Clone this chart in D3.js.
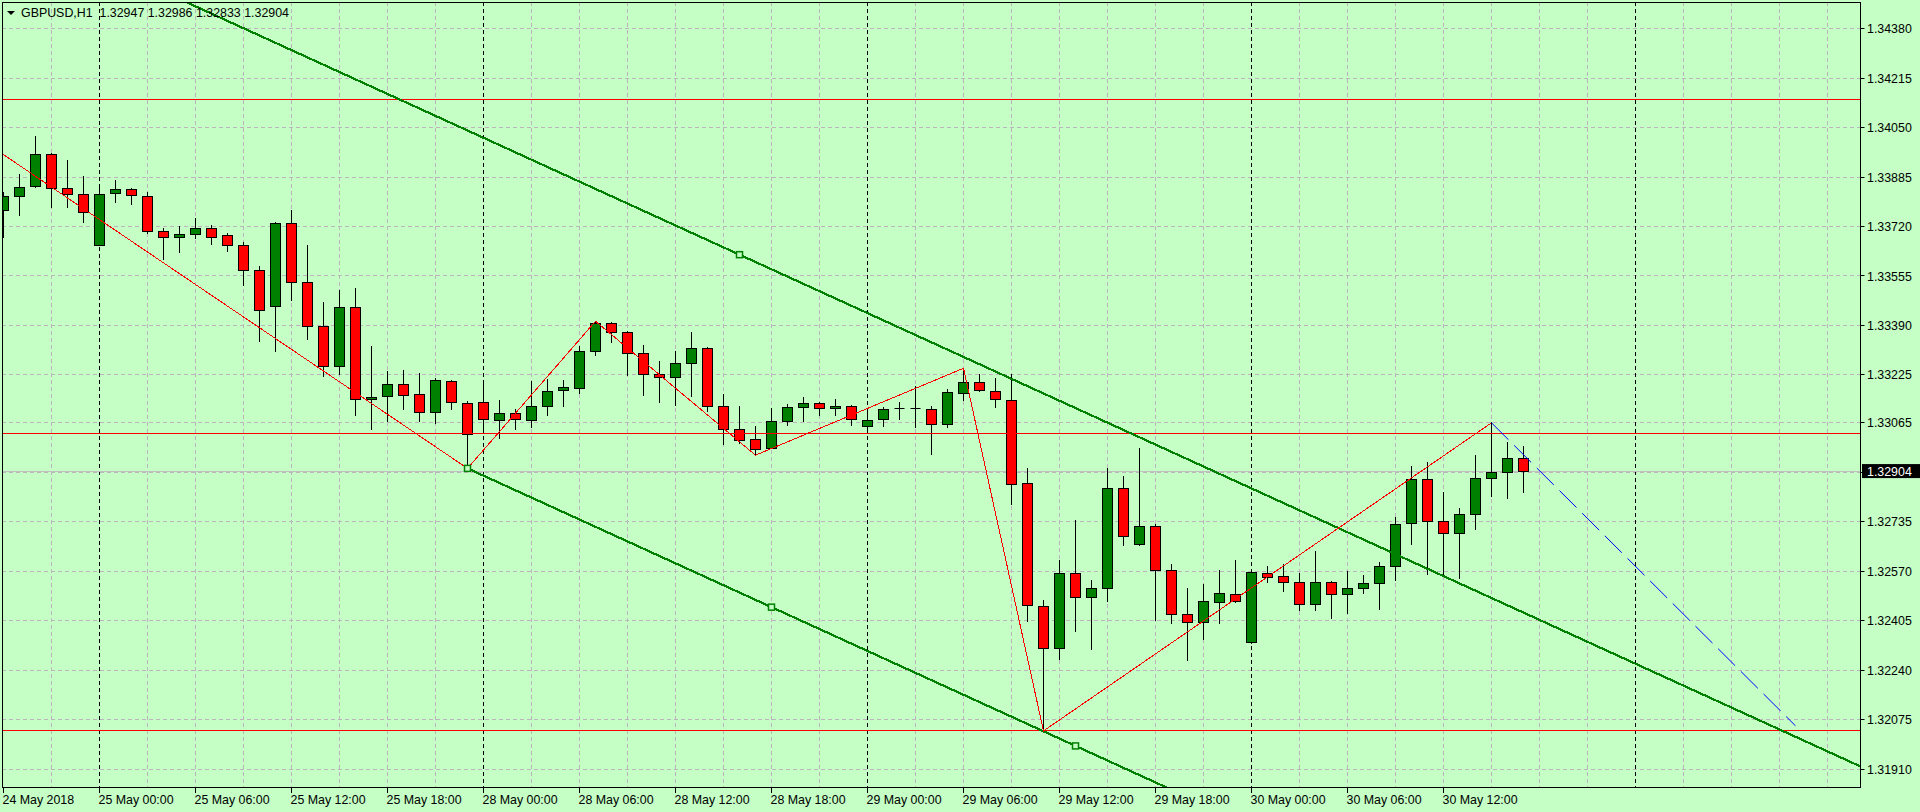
<!DOCTYPE html>
<html><head><meta charset="utf-8">
<script src="https://cdn.jsdelivr.net/npm/d3@7"></script>
<style>
html,body{margin:0;padding:0;background:#C5FFC5;overflow:hidden}
svg{display:block}
text{font-family:"Liberation Sans",Arial,sans-serif;font-size:12.4px;fill:#000}
</style>
</head><body>
<svg id="chart" width="1920" height="812"></svg>
<script>
// ---------------- DATA ----------------
const symbolTitle = "GBPUSD,H1";
const lastBarText = "1.32947 1.32986 1.32833 1.32904";

// hourly bars, first bar = 24 May 18:00
const open = [1.33774,1.33820,1.33854,1.33961,1.33848,1.33828,1.33656,1.33831,1.33844,1.33821,
1.33704,1.33684,1.33694,1.33714,1.33691,1.33657,1.33574,1.33454,1.33731,1.33534,
1.33387,1.33254,1.33450,1.33144,1.33154,1.33194,1.33160,1.33100,1.33204,1.33130,
1.33134,1.33073,1.33097,1.33073,1.33120,1.33174,1.33180,1.33304,1.33397,1.33367,
1.33297,1.33227,1.33217,1.33264,1.33314,1.33120,1.33044,1.33010,1.32980,1.33070,
1.33117,1.33130,1.33113,1.33120,1.33053,1.33077,1.33113,1.33113,1.33110,1.33060,
1.33164,1.33200,1.33170,1.33140,1.32863,1.32453,1.32313,1.32563,1.32483,1.32513,
1.32847,1.32660,1.32720,1.32573,1.32426,1.32399,1.32466,1.32493,1.32333,1.32563,
1.32553,1.32533,1.32460,1.32533,1.32493,1.32513,1.32530,1.32586,1.32730,1.32877,
1.32736,1.32696,1.32760,1.32880,1.32900,1.32947];
const high = [1.33835,1.33894,1.34020,1.33963,1.33939,1.33886,1.33856,1.33872,1.33848,1.33835,
1.33714,1.33719,1.33748,1.33722,1.33697,1.33665,1.33587,1.33733,1.33775,1.33657,
1.33468,1.33508,1.33512,1.33321,1.33235,1.33241,1.33231,1.33214,1.33207,1.33136,
1.33194,1.33139,1.33110,1.33204,1.33211,1.33206,1.33318,1.33404,1.33400,1.33370,
1.33324,1.33270,1.33304,1.33367,1.33317,1.33160,1.33120,1.33053,1.33113,1.33127,
1.33150,1.33132,1.33144,1.33124,1.33107,1.33117,1.33134,1.33187,1.33120,1.33177,
1.33247,1.33226,1.33214,1.33227,1.32911,1.32471,1.32607,1.32740,1.32540,1.32913,
1.32887,1.32978,1.32726,1.32593,1.32513,1.32526,1.32573,1.32607,1.32574,1.32587,
1.32593,1.32563,1.32636,1.32536,1.32570,1.32556,1.32600,1.32750,1.32920,1.32933,
1.32833,1.32780,1.32957,1.33065,1.33000,1.32986];
const low = [1.33683,1.33758,1.33850,1.33785,1.33785,1.33733,1.33656,1.33799,1.33793,1.33696,
1.33611,1.33633,1.33679,1.33659,1.33636,1.33523,1.33336,1.33302,1.33473,1.33342,
1.33219,1.33226,1.33089,1.33042,1.33069,1.33109,1.33069,1.33062,1.33109,1.32913,
1.33039,1.33013,1.33042,1.33049,1.33089,1.33119,1.33164,1.33290,1.33334,1.33222,
1.33156,1.33134,1.33122,1.33152,1.33102,1.32993,1.32997,1.32957,1.32978,1.33057,
1.33070,1.33090,1.33090,1.33057,1.33033,1.33052,1.33077,1.33049,1.32960,1.33050,
1.33140,1.33169,1.33116,1.32792,1.32402,1.32037,1.32276,1.32368,1.32309,1.32468,
1.32655,1.32656,1.32404,1.32395,1.32273,1.32343,1.32396,1.32467,1.32329,1.32532,
1.32502,1.32438,1.32438,1.32412,1.32428,1.32496,1.32443,1.32538,1.32658,1.32560,
1.32560,1.32546,1.32710,1.32818,1.32812,1.32833];
const close = [1.33820,1.33851,1.33961,1.33848,1.33828,1.33767,1.33828,1.33844,1.33824,1.33704,
1.33684,1.33694,1.33714,1.33684,1.33657,1.33574,1.33440,1.33731,1.33534,1.33387,
1.33254,1.33450,1.33144,1.33150,1.33194,1.33157,1.33100,1.33207,1.33134,1.33027,
1.33077,1.33097,1.33077,1.33120,1.33170,1.33184,1.33304,1.33397,1.33367,1.33297,
1.33227,1.33217,1.33264,1.33314,1.33120,1.33044,1.33007,1.32977,1.33070,1.33117,
1.33130,1.33113,1.33120,1.33077,1.33073,1.33110,1.33113,1.33113,1.33060,1.33167,
1.33200,1.33174,1.33144,1.32860,1.32456,1.32313,1.32563,1.32483,1.32513,1.32847,
1.32686,1.32720,1.32573,1.32426,1.32399,1.32469,1.32496,1.32469,1.32566,1.32550,
1.32533,1.32460,1.32533,1.32493,1.32513,1.32530,1.32586,1.32726,1.32877,1.32736,
1.32696,1.32760,1.32880,1.32900,1.32947,1.32904];

const xTickIndex = [0,6,12,18,24,30,36,42,48,54,60,66,72,78,84,90];
const xTickLabels = ["24 May 2018","25 May 00:00","25 May 06:00","25 May 12:00","25 May 18:00",
"28 May 00:00","28 May 06:00","28 May 12:00","28 May 18:00","29 May 00:00","29 May 06:00",
"29 May 12:00","29 May 18:00","30 May 00:00","30 May 06:00","30 May 12:00"];
const daySeparatorIndex = [6,30,54,78,102];

const priceTicks = [1.34380,1.34215,1.34050,1.33885,1.33720,1.33555,1.33390,1.33225,1.33065,1.32900,
1.32735,1.32570,1.32405,1.32240,1.32075,1.31910];
const priceTickLabels = ["1.34380","1.34215","1.34050","1.33885","1.33720","1.33555","1.33390","1.33225",
"1.33065","1.32900","1.32735","1.32570","1.32405","1.32240","1.32075","1.31910"];
const currentPrice = 1.32904;
const currentPriceLabel = "1.32904";

const levelLines = [1.34144, 1.33030, 1.32037];
const zigzag = [[-2,1.34032],[29,1.32913],[37,1.33404],[47,1.32957],[60,1.33247],[65,1.32037],[93,1.33065]];
const forecastLine = [[93,1.33065],[112,1.32054]];
const channelUpper = [[30,1.34016],[116,1.31920]];
const channelLower = [[29,1.32913],[67,1.31987]];
const channelMarkers = [[29,1.32913],[48,1.32450],[67,1.31987],[46,1.33626]];

// ---------------- LAYOUT ----------------
const W = 1920, H = 812;
const L = 2, T = 2, R = 1860, B = 787;
const x = d3.scaleLinear().domain([0, 116]).range([3.5, 3.5 + 16 * 116]);
const y = d3.scaleLinear().domain([1.31910, 1.34380]).range([769, 28.7]);
const py = v => Math.floor(y(v)) + 0.5;

const BG = "#C5FFC5", GRID = "#BDB5BD", BULL = "#008000", BEAR = "#FF0000";

const svg = d3.select("#chart");
svg.append("rect").attr("width", W).attr("height", H).attr("fill", BG);

svg.append("defs").append("clipPath").attr("id", "plot")
  .append("rect").attr("x", L + 1).attr("y", T + 1).attr("width", R - L - 1).attr("height", B - T - 1);
const plot = svg.append("g").attr("clip-path", "url(#plot)");

// horizontal grid
plot.append("g").selectAll("line").data(priceTicks).join("line")
  .attr("x1", L).attr("x2", R).attr("y1", d => py(d)).attr("y2", d => py(d))
  .attr("stroke", GRID).attr("stroke-dasharray", "4,3");
// vertical grid
const gridIdx = d3.range(3, 117, 3).filter(i => !daySeparatorIndex.includes(i));
plot.append("g").selectAll("line").data(gridIdx).join("line")
  .attr("x1", d => x(d)).attr("x2", d => x(d)).attr("y1", T).attr("y2", B)
  .attr("stroke", GRID).attr("stroke-dasharray", "4,3");
// day separators
plot.append("g").selectAll("line").data(daySeparatorIndex).join("line")
  .attr("x1", d => x(d)).attr("x2", d => x(d)).attr("y1", T).attr("y2", B)
  .attr("stroke", "#000").attr("stroke-dasharray", "4,3");
// current price line
plot.append("line").attr("x1", L).attr("x2", R).attr("y1", py(currentPrice)).attr("y2", py(currentPrice))
  .attr("stroke", "#C0C0C0");

// candles
const bars = open.map((o, i) => ({ i, o, h: high[i], l: low[i], c: close[i] }));
const cg = plot.append("g");
cg.selectAll("line.wick").data(bars).join("line").attr("class", "wick")
  .attr("x1", d => x(d.i)).attr("x2", d => x(d.i))
  .attr("y1", d => py(d.h) - 0.5).attr("y2", d => py(d.l) + 0.5)
  .attr("stroke", "#000");
bars.forEach(d => {
  const top = py(Math.max(d.o, d.c)), bot = py(Math.min(d.o, d.c));
  const cx = x(d.i);
  if (bot - top < 1) {
    cg.append("line").attr("x1", cx - 5).attr("x2", cx + 5).attr("y1", top).attr("y2", top)
      .attr("stroke", "#000").attr("stroke-width", 1);
  } else {
    cg.append("rect").attr("x", cx - 5).attr("y", top).attr("width", 10).attr("height", bot - top)
      .attr("fill", d.c > d.o ? BULL : BEAR).attr("stroke", "#000").attr("stroke-width", 1);
  }
});

// horizontal levels
plot.append("g").selectAll("line").data(levelLines).join("line")
  .attr("x1", L).attr("x2", R).attr("y1", d => py(d)).attr("y2", d => py(d))
  .attr("stroke", "#FF0000");

// extend a line through two anchors across index range
function extended(a, b, i0, i1) {
  const k = (b[1] - a[1]) / (b[0] - a[0]);
  return [[i0, a[1] + k * (i0 - a[0])], [i1, a[1] + k * (i1 - a[0])]];
}
const lineGen = d3.line().x(d => x(d[0])).y(d => y(d[1]));
plot.append("path").datum(extended(channelUpper[0], channelUpper[1], -20, 130))
  .attr("d", lineGen).attr("fill", "none").attr("stroke", BULL).attr("stroke-width", 2.2)
  .attr("shape-rendering", "crispEdges");
plot.append("path").datum(extended(channelLower[0], channelLower[1], channelLower[0][0], 130))
  .attr("d", lineGen).attr("fill", "none").attr("stroke", BULL).attr("stroke-width", 2.2)
  .attr("shape-rendering", "crispEdges");

// zigzag
plot.append("path").datum(zigzag).attr("d", lineGen).attr("fill", "none")
  .attr("stroke", "#FF0000").attr("stroke-width", 1).attr("shape-rendering", "crispEdges");
// forecast dashed
plot.append("path").datum(forecastLine).attr("d", lineGen).attr("fill", "none")
  .attr("stroke", "#0000FF").attr("stroke-width", 1).attr("stroke-dasharray", "24,8");

// channel markers
plot.append("g").selectAll("rect").data(channelMarkers).join("rect")
  .attr("x", d => x(d[0]) - 3).attr("y", d => y(d[1]) - 3).attr("width", 6).attr("height", 6)
  .attr("fill", BG).attr("stroke", BULL).attr("stroke-width", 1.5);

// frame
svg.append("rect").attr("x", L + 0.5).attr("y", T + 0.5).attr("width", R - L).attr("height", B - T)
  .attr("fill", "none").attr("stroke", "#000");

// price axis
const pa = svg.append("g");
priceTicks.forEach((v, k) => {
  pa.append("line").attr("x1", R + 0.5).attr("x2", R + 4.5).attr("y1", py(v)).attr("y2", py(v)).attr("stroke", "#000");
  pa.append("text").attr("x", 1867).attr("y", y(v) + 4.6).text(priceTickLabels[k]);
});
pa.append("rect").attr("x", 1862).attr("y", y(currentPrice) - 7).attr("width", 58).attr("height", 14).attr("fill", "#000");
pa.append("text").attr("x", 1867).attr("y", y(currentPrice) + 4.6).style("fill", "#fff").text(currentPriceLabel);

// time axis
const ta = svg.append("g");
xTickIndex.forEach((i, k) => {
  ta.append("line").attr("x1", x(i)).attr("x2", x(i)).attr("y1", B).attr("y2", B + 6).attr("stroke", "#000");
  ta.append("text").attr("x", x(i) - 1).attr("y", 804).text(xTickLabels[k]);
});

// title
svg.append("path").attr("d", "M7,11 L15,11 L11,15 Z").attr("fill", "#000");
svg.append("text").attr("x", 21).attr("y", 17).attr("xml:space", "preserve")
  .text(symbolTitle + "  " + lastBarText);
</script>
</body></html>
